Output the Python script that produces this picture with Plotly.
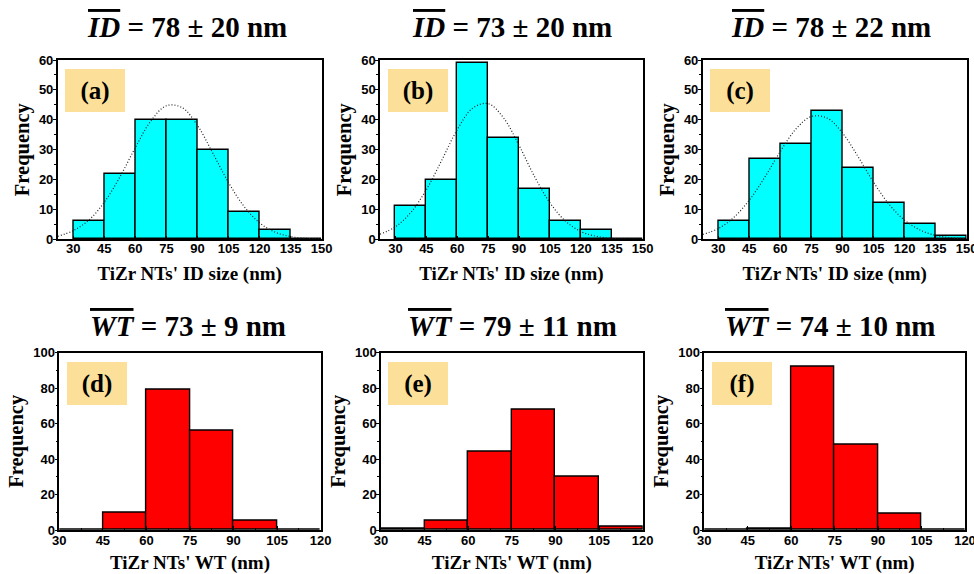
import plotly.graph_objects as go

# ---------------- data ----------------
bin_width = 15
id_bin_left = [30, 45, 60, 75, 90, 105, 120, 135]
id_counts_a = [6, 22, 40, 40, 30, 9, 3, 0]
id_counts_b = [11, 20, 59, 34, 17, 6, 3, 0]
id_counts_c = [6, 27, 32, 43, 24, 12, 5, 1]

wt_bin_left = [30, 45, 60, 75, 90, 105]
wt_counts_d = [0, 10, 79, 56, 5, 0]
wt_counts_e = [1, 5, 44, 68, 30, 2]
wt_counts_f = [0, 1, 92, 48, 9, 0]

# Gaussian fit curves (dotted)
fit_x = [22.5, 30, 37.5, 45, 52.5, 60, 67.5, 75, 82.5, 90, 97.5, 105, 112.5, 120, 127.5, 135, 142.5, 150]
fit_a = [1.0, 2.9, 6.4, 12.4, 20.8, 30.7, 39.6, 44.7, 44.1, 38.1, 28.7, 19.0, 11.0, 5.5, 2.4, 0.9, 0.3, 0.1]
fit_b = [1.7, 4.2, 9.0, 16.6, 26.5, 36.7, 43.9, 45.4, 40.6, 31.4, 21.0, 12.2, 6.1, 2.6, 1.0, 0.3, 0.1, 0.0]
fit_c = [1.6, 3.6, 7.3, 13.1, 20.8, 29.4, 36.9, 41.1, 40.6, 35.6, 27.7, 19.1, 11.7, 6.4, 3.1, 1.3, 0.5, 0.2]

titles = [
    ("ID", "78 ± 20 nm"), ("ID", "73 ± 20 nm"), ("ID", "78 ± 22 nm"),
    ("WT", "73 ± 9 nm"), ("WT", "79 ± 11 nm"), ("WT", "74 ± 10 nm"),
]
panel_labels = ["(a)", "(b)", "(c)", "(d)", "(e)", "(f)"]
id_xlabel = "TiZr NTs' ID size (nm)"
wt_xlabel = "TiZr NTs' WT (nm)"
ylabel = "Frequency"

# ---------------- layout geometry ----------------
W, H = 974, 574
x_domains = [
    (57.7, 321.7), (380, 642.7), (702.7, 966.7),
    (59.3, 320.7), (381, 642.7), (704.3, 965),
]
y_domains_px = [(60, 239.3)] * 3 + [(352.7, 530)] * 3
title_pos = [(186.5, 27.5), (511.7, 27.5), (830.5, 27.5),
             (187.5, 325.7), (512.5, 325.7), (830, 325.7)]

SERIF = "Liberation Serif, Times New Roman, serif"
SANS = "Liberation Sans, Arial, sans-serif"

fig = go.Figure()

panels = [
    (id_bin_left, id_counts_a, fit_a, "#00FFFF"),
    (id_bin_left, id_counts_b, fit_b, "#00FFFF"),
    (id_bin_left, id_counts_c, fit_c, "#00FFFF"),
    (wt_bin_left, wt_counts_d, None, "#FF0000"),
    (wt_bin_left, wt_counts_e, None, "#FF0000"),
    (wt_bin_left, wt_counts_f, None, "#FF0000"),
]

annotations = []
for i, (lefts, counts, fit, color) in enumerate(panels):
    n = i + 1
    xa = "x" if n == 1 else f"x{n}"
    ya = "y" if n == 1 else f"y{n}"
    fig.add_trace(go.Bar(
        x=lefts, y=counts, width=[bin_width] * len(lefts), offset=0,
        marker=dict(color=color, line=dict(color="black", width=1.4)),
        xaxis=xa, yaxis=ya, showlegend=False, hoverinfo="skip",
    ))
    if fit is not None:
        fig.add_trace(go.Scatter(
            x=fit_x, y=fit, mode="lines",
            line=dict(color="#222222", width=1.2, dash="1px,2px", shape="spline"),
            xaxis=xa, yaxis=ya, showlegend=False, hoverinfo="skip", cliponaxis=True,
        ))

    top_row = n <= 3
    x0, x1 = x_domains[i]
    yt, yb = y_domains_px[i]
    axkey = "xaxis" if n == 1 else f"xaxis{n}"
    aykey = "yaxis" if n == 1 else f"yaxis{n}"
    fig.update_layout(**{
        axkey: dict(
            domain=[x0 / W, x1 / W], anchor=ya, automargin=False,
            range=[22.5, 150] if top_row else [30, 120],
            tickvals=[30, 45, 60, 75, 90, 105, 120, 135, 150] if top_row else [30, 45, 60, 75, 90, 105, 120],
            ticks="inside", ticklen=4, tickwidth=1.2, tickcolor="black",
            minor=dict(ticks="inside", ticklen=2, tickvals=[37.5, 52.5, 67.5, 82.5, 97.5, 112.5, 127.5, 142.5], tickcolor="black"),
            showline=True, linecolor="black", linewidth=1.5, mirror=True,
            showgrid=False, zeroline=False,
            ticklabeloverflow="allow", ticklabelstandoff=-4 if top_row else -2,
            tickfont=dict(family=SANS, size=13, color="black", weight=700),
            title=dict(text=f"<b>{id_xlabel if top_row else wt_xlabel}</b>",
                       font=dict(family=SERIF, size=19, color="black"), standoff=12 if top_row else 10),
        ),
        aykey: dict(
            domain=[1 - yb / H, 1 - yt / H], anchor=xa, automargin=False,
            range=[0, 60] if top_row else [0, 100],
            dtick=10 if top_row else 20,
            ticks="outside", ticklen=3, tickwidth=1.2, tickcolor="black",
            minor=dict(ticks="outside", ticklen=2, dtick=5 if top_row else 10, tickcolor="black"),
            showline=True, linecolor="black", linewidth=1.5, mirror=True,
            showgrid=False, zeroline=False,
            ticklabelstandoff=-3,
            tickfont=dict(family=SANS, size=13, color="black", weight=700),
            title=dict(text=f"<b>{ylabel}</b>", font=dict(family=SERIF, size=20.5, color="black"), standoff=4),
        ),
    })

    # panel label box
    annotations.append(dict(
        xref=f"{xa} domain", yref=f"{ya} domain", x=0.143, y=0.828,
        text=f"<b>{panel_labels[i]}</b>", showarrow=False,
        font=dict(family=SERIF, size=25, color="black"),
        bgcolor="#FCE09A", width=60, height=43, borderpad=0, borderwidth=0,
        xanchor="center", yanchor="middle",
    ))
    # title
    sym, rest = titles[i]
    tx, ty = title_pos[i]
    annotations.append(dict(
        xref="paper", yref="paper", x=tx / W, y=1 - ty / H,
        text=f"<span style='text-decoration:overline'><b><i>{sym}</i></b></span><b> = {rest}</b>",
        showarrow=False, font=dict(family=SERIF, size=29, color="black"),
        xanchor="center", yanchor="middle",
    ))

fig.update_layout(
    width=W, height=H, margin=dict(l=0, r=0, t=0, b=0, autoexpand=False),
    paper_bgcolor="white", plot_bgcolor="white",
    annotations=annotations, barmode="overlay", bargap=0,
)

fig.write_html(
    "out.html",
    config={"displayModeBar": False},
    post_script="document.body.style.margin='0';document.body.style.overflow='hidden';",
)
